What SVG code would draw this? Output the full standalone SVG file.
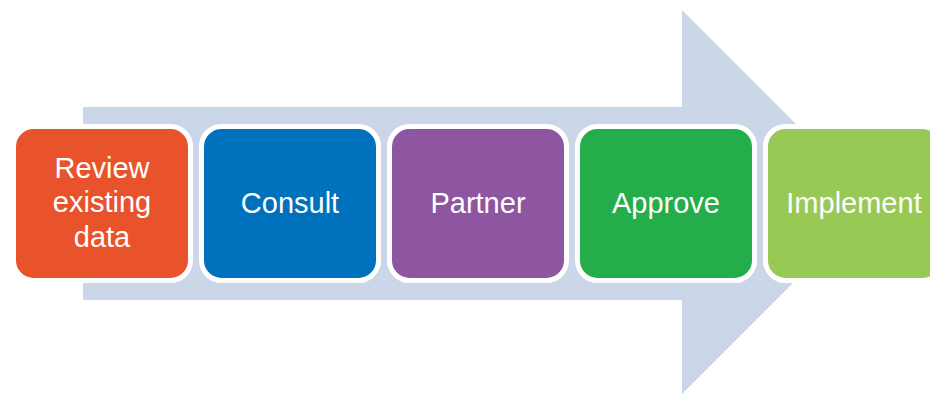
<svg xmlns="http://www.w3.org/2000/svg" width="930" height="394" viewBox="0 0 930 394">
<style>
.box{stroke:#fff;stroke-width:5}
.lbl{font-family:"Liberation Sans",Arial,sans-serif;font-size:29px;fill:#fff;text-anchor:middle}
</style>
<rect width="930" height="394" fill="#fff"/>
<g id="connectors">
<polygon points="83,107 682,107 682,10 874,202 682,394 682,300 83,300" fill="#CBD7E8"/>
</g>
<g id="review">
<rect class="box" x="13.5" y="126.5" width="177" height="154" rx="20" fill="#E9532B"/>
<text class="lbl" x="102" y="178">Review</text>
<text class="lbl" x="102" y="212">existing</text>
<text class="lbl" x="102" y="247">data</text>
</g>
<g id="consult">
<rect class="box" x="201.5" y="126.5" width="177" height="154" rx="20" fill="#0071BC"/>
<text class="lbl" x="290" y="213">Consult</text>
</g>
<g id="partner">
<rect class="box" x="389.5" y="126.5" width="177" height="154" rx="20" fill="#8E55A0"/>
<text class="lbl" x="478" y="213">Partner</text>
</g>
<g id="approve">
<rect class="box" x="577.5" y="126.5" width="177" height="154" rx="20" fill="#24AE4B"/>
<text class="lbl" x="666" y="213">Approve</text>
</g>
<g id="implement">
<rect class="box" x="765.5" y="126.5" width="177" height="154" rx="20" fill="#98C954"/>
<text class="lbl" x="854" y="213">Implement</text>
</g>
</svg>
